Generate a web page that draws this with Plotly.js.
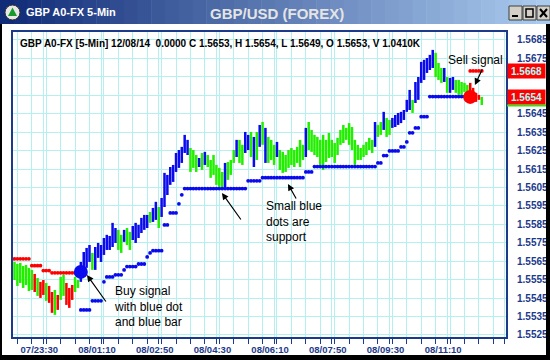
<!DOCTYPE html>
<html><head><meta charset="utf-8">
<script src="https://cdn.plot.ly/plotly-3.0.1.min.js"></script>
<style>html,body{margin:0;padding:0;background:#fff;}#chart{width:550px;height:360px;}</style>
</head><body><div id="chart"></div>
<script>
const startTime = '2014-12-07 22:40:00';
const barMinutes = 5;
const barSignal = [
 'g','g','g','g','g','g','g','r','g','r',
 'r','g','r','r','g','r','g','g','r','r',
 'r','g','g','b','b','b','b','g','b','b',
 'b','b','b','b','b','b','g','g','b','g',
 'g','b','b','b','b','b','b','g','b','b',
 'g','b','b','b','b','b','b','b','b','b',
 'b','g','g','g','b','g','b','g','g','g',
 'g','g','g','b','g','g','g','b','g','g',
 'b','b','g','b','g','b','g','b','g','g',
 'g','b','g','g','g','g','g','g','g','g',
 'g','b','g','g','g','g','g','g','g','g',
 'g','g','g','g','g','g','g','g','g','g',
 'g','g','g','g','g','b','g','g','b','g',
 'g','b','b','b','b','b','b','b','g','b',
 'b','b','b','b','b','b','g','g','g','b',
 'g','b','b','g','g','g','g','g','r','r',
 'r','r','g'];
const barHigh = [
 1.55646,1.55635,1.55641,1.55624,1.55630,1.55614,1.55603,1.55581,1.55559,1.55538,
 1.55548,1.55532,1.55516,1.55483,1.55494,1.55467,1.55565,1.55576,1.55532,1.55505,
 1.55521,1.55565,1.55548,1.55646,1.55700,1.55722,1.55738,1.55695,1.55727,1.55749,
 1.55738,1.55776,1.55793,1.55787,1.55858,1.55830,1.55820,1.55793,1.55820,1.55830,
 1.55809,1.55841,1.55858,1.55847,1.55885,1.55901,1.55901,1.55917,1.55939,1.55972,
 1.55944,1.55993,1.56129,1.56118,1.56161,1.56172,1.56237,1.56253,1.56270,1.56335,
 1.56308,1.56264,1.56253,1.56226,1.56210,1.56237,1.56243,1.56226,1.56199,1.56226,
 1.56172,1.56156,1.56134,1.56183,1.56188,1.56199,1.56253,1.56308,1.56308,1.56281,
 1.56351,1.56335,1.56351,1.56324,1.56351,1.56389,1.56405,1.56373,1.56324,1.56308,
 1.56281,1.56297,1.56253,1.56243,1.56226,1.56253,1.56264,1.56253,1.56270,1.56308,
 1.56281,1.56373,1.56405,1.56362,1.56335,1.56324,1.56308,1.56335,1.56308,1.56346,
 1.56308,1.56291,1.56319,1.56362,1.56389,1.56373,1.56399,1.56378,1.56308,1.56281,
 1.56264,1.56281,1.56297,1.56319,1.56308,1.56405,1.56389,1.56405,1.56460,1.56427,
 1.56416,1.56427,1.56443,1.56454,1.56460,1.56470,1.56525,1.56579,1.56525,1.56622,
 1.56649,1.56731,1.56742,1.56752,1.56769,1.56796,1.56780,1.56725,1.56698,1.56698,
 1.56649,1.56644,1.56649,1.56633,1.56633,1.56622,1.56617,1.56606,1.56617,1.56590,
 1.56563,1.56552,1.56541];
const barLow = [
 1.55548,1.55516,1.55532,1.55505,1.55521,1.55488,1.55494,1.55483,1.55462,1.55451,
 1.55467,1.55435,1.55424,1.55370,1.55359,1.55386,1.55440,1.55462,1.55413,1.55397,
 1.55440,1.55483,1.55505,1.55538,1.55592,1.55614,1.55646,1.55603,1.55603,1.55668,
 1.55646,1.55684,1.55711,1.55711,1.55727,1.55749,1.55711,1.55695,1.55755,1.55738,
 1.55711,1.55765,1.55749,1.55776,1.55803,1.55820,1.55830,1.55858,1.55863,1.55874,
 1.55830,1.55890,1.55944,1.56009,1.56064,1.56080,1.56134,1.56156,1.56183,1.56237,
 1.56226,1.56134,1.56156,1.56134,1.56161,1.56145,1.56172,1.56161,1.56102,1.56118,
 1.56064,1.56053,1.56047,1.56047,1.56091,1.56118,1.56183,1.56215,1.56183,1.56172,
 1.56237,1.56253,1.56215,1.56161,1.56199,1.56270,1.56281,1.56183,1.56183,1.56199,
 1.56172,1.56215,1.56145,1.56129,1.56134,1.56156,1.56172,1.56161,1.56183,1.56161,
 1.56199,1.56215,1.56253,1.56243,1.56226,1.56215,1.56172,1.56145,1.56188,1.56210,
 1.56215,1.56183,1.56226,1.56281,1.56291,1.56308,1.56281,1.56253,1.56172,1.56199,
 1.56199,1.56215,1.56226,1.56253,1.56237,1.56270,1.56324,1.56335,1.56362,1.56324,
 1.56335,1.56373,1.56378,1.56389,1.56399,1.56416,1.56460,1.56470,1.56454,1.56508,
 1.56525,1.56617,1.56633,1.56671,1.56687,1.56698,1.56649,1.56633,1.56617,1.56622,
 1.56563,1.56563,1.56579,1.56563,1.56552,1.56552,1.56568,1.56552,1.56541,1.56525,
 1.56514,1.56525,1.56497];
const supportDots = [
 null,null,null,null,null,null,null,null,null,null,
 null,null,null,null,null,null,null,null,null,null,
 null,null,null,1.55386,1.55386,1.55386,1.55386,1.55435,1.55435,1.55435,
 1.55435,1.55538,1.55565,1.55565,1.55565,1.55576,1.55576,1.55576,1.55603,1.55621,
 1.55621,1.55621,1.55621,1.55635,1.55635,1.55635,1.55673,1.55695,1.55707,1.55707,
 1.55707,1.55707,1.55847,1.55847,1.55912,1.55912,1.55912,1.55961,1.56010,1.56044,
 1.56044,1.56044,1.56044,1.56044,1.56044,1.56044,1.56044,1.56044,1.56044,1.56044,
 1.56044,1.56044,1.56044,1.56044,1.56044,1.56044,1.56044,1.56044,1.56044,1.56044,
 1.56044,1.56086,1.56086,1.56086,1.56086,1.56086,1.56103,1.56103,1.56103,1.56103,
 1.56103,1.56103,1.56103,1.56103,1.56103,1.56103,1.56103,1.56103,1.56103,1.56103,
 1.56103,1.56134,1.56134,1.56134,1.56163,1.56163,1.56163,1.56163,1.56163,1.56163,
 1.56163,1.56163,1.56163,1.56163,1.56163,1.56163,1.56163,1.56163,1.56163,1.56163,
 1.56163,1.56163,1.56163,1.56163,1.56163,1.56163,1.56183,1.56183,1.56223,1.56223,
 1.56248,1.56248,1.56248,1.56248,1.56270,1.56270,1.56297,1.56346,1.56346,1.56373,
 1.56373,1.56434,1.56434,1.56434,1.56543,1.56543,1.56543,1.56543,1.56543,1.56543,
 1.56543,1.56543,1.56543,1.56543,1.56543,1.56543,1.56543,1.56543,null,null,
 null,null,null];
const stopDots = [
 1.55663,1.55663,1.55663,1.55663,1.55663,1.55663,1.55626,1.55626,1.55626,1.55626,
 1.55599,1.55599,1.55599,1.55587,1.55587,1.55587,1.55587,1.55587,1.55587,1.55587,
 1.55587,1.55587,1.55587,null,null,null,null,null,null,null,
 null,null,null,null,null,null,null,null,null,null,
 null,null,null,null,null,null,null,null,null,null,
 null,null,null,null,null,null,null,null,null,null,
 null,null,null,null,null,null,null,null,null,null,
 null,null,null,null,null,null,null,null,null,null,
 null,null,null,null,null,null,null,null,null,null,
 null,null,null,null,null,null,null,null,null,null,
 null,null,null,null,null,null,null,null,null,null,
 null,null,null,null,null,null,null,null,null,null,
 null,null,null,null,null,null,null,null,null,null,
 null,null,null,null,null,null,null,null,null,null,
 null,null,null,null,null,null,null,null,null,null,
 null,null,null,null,null,null,null,null,1.56682,1.56682,
 1.56682,1.56682,1.56682];
const buySignal = {bar: 23, price: 1.55592};
const sellSignal = {bar: 158, price: 1.56541};
const priceTags = [1.5668, 1.5654];
const yTickValues = [1.5525,1.5535,1.5545,1.5555,1.5565,1.5575,1.5585,1.5595,1.5605,1.5615,1.5625,1.5635,1.5645,1.5655,1.5665,1.5675,1.5685];
const yTickLabels = ['1.5525','1.5535','1.5545','1.5555','1.5565','1.5575','1.5585','1.5595','1.5605','1.5615','1.5625','1.5635','1.5645','','','1.5675','1.5685'];
const xTickStart = '2014-12-07 23:30:00';
const headerText = 'GBP A0-FX [5-Min] 12/08/14\u00a0\u00a00.0000 C 1.5653, H 1.5654, L 1.5649, O 1.5653, V 1.0410K';
const windowTitle = 'GBP A0-FX 5-Min';
const chartTitle = 'GBP/USD (FOREX)';

const t0 = Date.parse(startTime.replace(' ', 'T') + 'Z');
function barTime(i) {
  const d = new Date(t0 + i * barMinutes * 60000);
  return d.toISOString().replace('T', ' ').slice(0, 19);
}
const colors = {g: '#22ee00', b: '#0a0aee', r: '#ff0000'};
const traces = [];
['g', 'b', 'r'].forEach(function (c) {
  const xs = [], ys = [];
  for (let i = 0; i < barHigh.length; i++) {
    if (barSignal[i] !== c) continue;
    const t = barTime(i);
    xs.push(t, t, null); ys.push(barLow[i], barHigh[i], null);
  }
  traces.push({type: 'scatter', mode: 'lines', x: xs, y: ys, connectgaps: false,
    line: {color: colors[c], width: 2.5}, hoverinfo: 'skip', showlegend: false});
});
const times = barHigh.map(function (_, i) { return barTime(i); });
traces.push({type: 'scatter', mode: 'markers', x: times, y: stopDots,
  marker: {color: '#ff0000', size: 3.8}, showlegend: false});
traces.push({type: 'scatter', mode: 'markers', x: times, y: supportDots,
  marker: {color: '#0a0aee', size: 3.8}, showlegend: false});
traces.push({type: 'scatter', mode: 'markers', x: [barTime(buySignal.bar)], y: [buySignal.price],
  marker: {color: '#0a0aee', size: 14}, showlegend: false});
traces.push({type: 'scatter', mode: 'markers', x: [barTime(sellSignal.bar)], y: [sellSignal.price],
  marker: {color: '#ff0000', size: 14}, showlegend: false});

// pixel helpers for decoration placement
const L = 13, R = 506, T = 32, B = 337;
function px(x) { return (x - L) / (R - L); }
function py(y) { return (B - y) / (B - T); }
function xAt(x) { return barTime((x - 14.5) / 2.885); }
function yAt(y) { return 1.56893 - (y - T) / (B - T) * (1.56893 - 1.55239); }

const navy = '#1c3a8c';
const shapes = [];
// title bar gradient
const nb = 40;
const c1 = [16, 44, 120], c2 = [170, 202, 238];
for (let k = 0; k < nb; k++) {
  const f = k / (nb - 1);
  const col = 'rgb(' + c1.map(function (v, j) { return Math.round(v + (c2[j] - v) * f); }).join(',') + ')';
  shapes.push({type: 'rect', xref: 'paper', yref: 'paper', x0: px(k * 550 / nb), x1: px((k + 1) * 550 / nb + 0.5),
    y0: py(24), y1: py(0), fillcolor: col, line: {width: 0}, layer: 'above'});
}
// window frame
shapes.push({type: 'rect', xref: 'paper', yref: 'paper', x0: px(0), x1: px(2), y0: py(360), y1: py(24), fillcolor: '#000', line: {width: 0}});
shapes.push({type: 'rect', xref: 'paper', yref: 'paper', x0: px(546), x1: px(551), y0: py(360), y1: py(24), fillcolor: '#000', line: {width: 0}});
shapes.push({type: 'rect', xref: 'paper', yref: 'paper', x0: px(0), x1: px(551), y0: py(361), y1: py(355), fillcolor: '#000', line: {width: 0}});
// buttons
[509, 523, 537].forEach(function (bx, k) {
  shapes.push({type: 'rect', xref: 'paper', yref: 'paper', x0: px(bx), x1: px(bx + 13), y0: py(20), y1: py(6),
    fillcolor: '#d4d0c8', line: {color: '#404040', width: 1}, layer: 'above'});
  if (k === 0) shapes.push({type: 'line', xref: 'paper', yref: 'paper', x0: px(bx + 3), x1: px(bx + 9), y0: py(16), y1: py(16), line: {color: '#000', width: 2}, layer: 'above'});
  if (k === 1) shapes.push({type: 'rect', xref: 'paper', yref: 'paper', x0: px(bx + 3), x1: px(bx + 10), y0: py(17), y1: py(9), line: {color: '#000', width: 1.5}, layer: 'above'});
  if (k === 2) {
    shapes.push({type: 'line', xref: 'paper', yref: 'paper', x0: px(bx + 3), x1: px(bx + 10), y0: py(9), y1: py(17), line: {color: '#000', width: 2}, layer: 'above'});
    shapes.push({type: 'line', xref: 'paper', yref: 'paper', x0: px(bx + 3), x1: px(bx + 10), y0: py(17), y1: py(9), line: {color: '#000', width: 2}, layer: 'above'});
  }
});
// icon
shapes.push({type: 'circle', xref: 'paper', yref: 'paper', x0: px(5), x1: px(20), y0: py(20), y1: py(5), fillcolor: '#e8e8e8', line: {color: '#303030', width: 1}, layer: 'above'});
shapes.push({type: 'path', xref: 'paper', yref: 'paper', layer: 'above', fillcolor: '#1a9a2a', line: {width: 0},
  path: 'M ' + px(12.5) + ' ' + py(7.5) + ' L ' + px(17) + ' ' + py(16) + ' L ' + px(8) + ' ' + py(16) + ' Z'});
// green marker under last price tag
shapes.push({type: 'line', xref: 'paper', yref: 'paper', x0: px(507), x1: px(546), y0: py(105.5), y1: py(105.5), line: {color: '#22ee00', width: 2}});

const annotations = [];
const txtFont = {family: 'Liberation Sans, Arial, sans-serif', size: 12, color: '#000'};
annotations.push({xref: 'paper', yref: 'paper', x: px(18), y: py(43), xanchor: 'left', yanchor: 'middle', showarrow: false,
  text: headerText, font: {family: 'Liberation Sans, Arial, sans-serif', size: 10, color: '#000', weight: 'bold'}});
annotations.push({xref: 'paper', yref: 'paper', x: px(446), y: py(60), xanchor: 'left', yanchor: 'middle', showarrow: false,
  text: 'Sell signal', font: txtFont});
annotations.push({xref: 'paper', yref: 'paper', x: px(112), y: py(306), xanchor: 'left', yanchor: 'middle', align: 'left', showarrow: false,
  text: 'Buy signal<br>with blue dot<br>and blue bar', font: txtFont});
annotations.push({xref: 'paper', yref: 'paper', x: px(264), y: py(221), xanchor: 'left', yanchor: 'middle', align: 'left', showarrow: false,
  text: 'Small blue<br>dots are<br>support', font: txtFont});
[[475, 85, 483, 68], [87, 275, 107, 303], [222, 193, 242, 221], [288, 184, 297, 200]].forEach(function (a) {
  annotations.push({x: xAt(a[0]), y: yAt(a[1]), ax: a[2] - a[0], ay: a[3] - a[1], axref: 'pixel', ayref: 'pixel',
    text: '', showarrow: true, arrowhead: 2, arrowsize: 1.1, arrowwidth: 1.2, arrowcolor: '#000'});
});
priceTags.forEach(function (p) {
  annotations.push({xref: 'paper', yref: 'y', x: px(507), y: p, xanchor: 'left', yanchor: 'middle', showarrow: false,
    text: p.toFixed(4), bgcolor: '#ff0000', width: 37, height: 14, borderpad: 0,
    font: {family: 'Liberation Sans, Arial, sans-serif', size: 10, color: '#a8ffff', weight: 'bold'}});
});
annotations.push({xref: 'paper', yref: 'paper', x: px(24), y: py(12), xanchor: 'left', yanchor: 'middle', showarrow: false,
  text: windowTitle, font: {family: 'Liberation Sans, Arial, sans-serif', size: 11, color: '#ffffff', weight: 'bold'}});
annotations.push({xref: 'paper', yref: 'paper', x: px(277), y: py(13), xanchor: 'center', yanchor: 'middle', showarrow: false,
  text: chartTitle, font: {family: 'Liberation Sans, Arial, sans-serif', size: 15, color: '#e4e4e4', weight: 'bold'}});

const grid = '#b4f0f0';
const layout = {
  width: 550, height: 360,
  margin: {l: L, r: 550 - R, t: T, b: 360 - B, pad: 0},
  paper_bgcolor: '#ffffff', plot_bgcolor: '#ffffff',
  showlegend: false,
  xaxis: {type: 'date', range: [barTime(-0.52), barTime(170.4)], tick0: xTickStart, dtick: 100 * 60000,
    tickformat: '%d/%H:%M', ticks: 'outside', ticklen: 5, tickcolor: navy, tickwidth: 1,
    ticklabeloverflow: 'hide past domain', ticklabelshift: -4, ticklabelstandoff: -2,
    showgrid: true, gridcolor: grid, gridwidth: 1, zeroline: false,
    showline: true, mirror: true, linecolor: navy, linewidth: 2,
    minor: {dtick: 25 * 60000, ticks: 'outside', ticklen: 5, tickcolor: navy, showgrid: true, gridcolor: grid},
    tickfont: {family: 'Liberation Sans, Arial, sans-serif', size: 9.5, color: navy, weight: 'bold'}},
  yaxis: {side: 'right', range: [1.55239, 1.56893], tickmode: 'array', tickvals: yTickValues, ticktext: yTickLabels,
    ticks: '', showgrid: true, gridcolor: grid, zeroline: false, ticklabelstandoff: 7,
    showline: true, mirror: true, linecolor: navy, linewidth: 2,
    tickfont: {family: 'Liberation Sans, Arial, sans-serif', size: 10, color: navy, weight: 'bold'}},
  shapes: shapes, annotations: annotations
};
Plotly.newPlot('chart', traces, layout, {staticPlot: true, displayModeBar: false});
</script></body></html>
